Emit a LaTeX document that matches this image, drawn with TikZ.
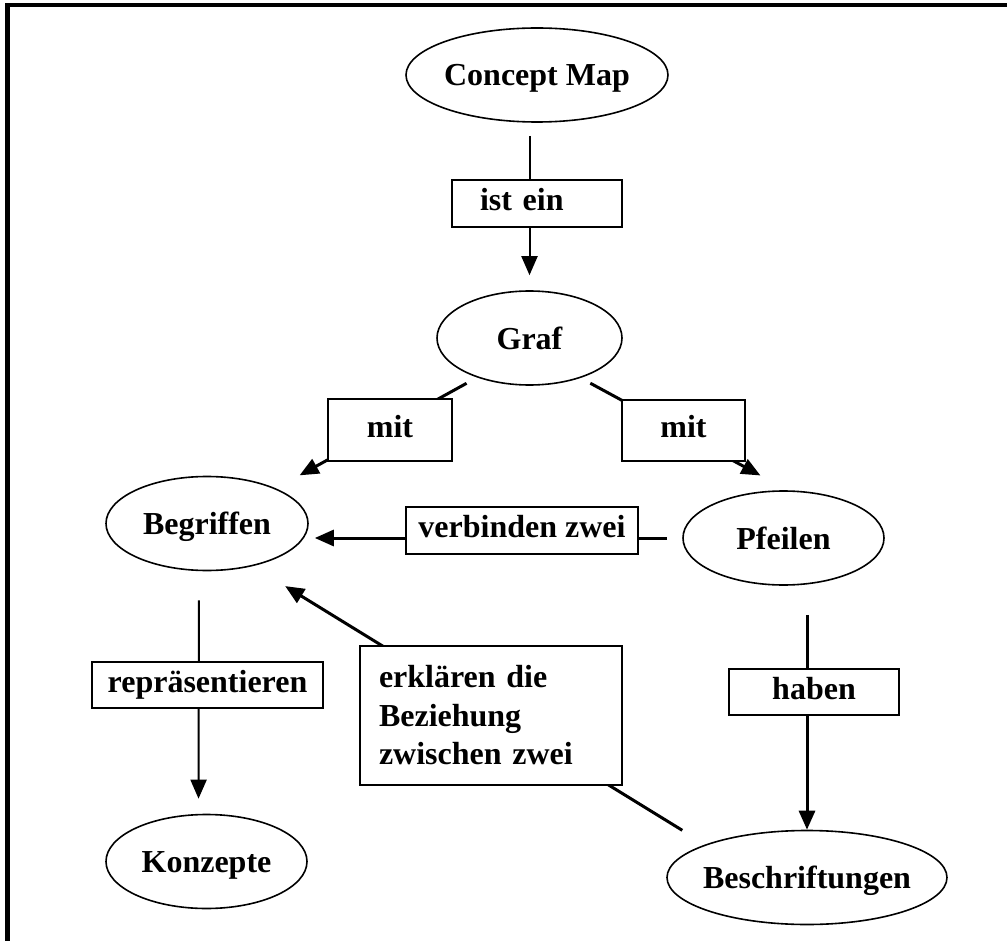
\documentclass[tikz,border=0pt]{standalone}
\usepackage{fontspec}
\setmainfont{Liberation Serif}
\usetikzlibrary{shapes.geometric,arrows.meta}

\begin{document}
\begin{tikzpicture}[x=1pt, y=-1pt, >={Triangle[length=19pt,width=16pt]},
  font=\fontsize{32}{38.5}\selectfont\bfseries,
  concept/.style={ellipse, draw, line width=1.6pt, minimum height=94pt,
    inner sep=0pt, text height=22pt, text depth=0pt},
  rel/.style={draw, rectangle, fill=white, line width=2pt},
  phrase/.style={rel, inner sep=4pt, text height=22pt, text depth=8pt},
  link/.style={line width=3pt},
  thinlink/.style={line width=2pt}]
\useasboundingbox (0,0) rectangle (1007,941);
% frame
\draw[line width=4.5pt] (7.5,941) -- (7.5,5) -- (1007,5);
% concepts
\foreach \n/\x/\y/\w/\t in {cmap/537/75/262/Concept Map, graf/529.5/338/185/Graf,
    begr/207/523.5/202/Begriffen, pfeil/783.5/538/201/Pfeilen,
    konz/206.5/861.5/201/Konzepte, beschr/807/877.5/280/Beschriftungen}
  \node[concept, minimum width=\w] (\n) at (\x,\y) {\makebox[0pt]{\t}};
% connectors
\draw[thinlink, ->, shorten <=13pt, shorten >=15pt] (cmap.south -| graf.north) -- (graf.north);
\draw[link, ->, shorten <=12pt, shorten >=27pt] (graf.217.5) -- (begr.27.6);
\draw[link, ->, shorten <=11pt, shorten >=31pt] (graf.322.5) -- (pfeil.85);
\draw[link, ->, shorten <=15pt, shorten >=6pt] (pfeil.west) -- (begr.east |- pfeil.west);
\draw[thinlink, ->, shorten <=29pt, shorten >=15pt] ([xshift=-8pt]begr.south) -- ([xshift=-8pt]konz.north);
\draw[link, ->, shorten <=29pt] (pfeil.south -| beschr.north) -- (beschr.north);
\draw[link, ->, shorten <=27pt, shorten >=38pt] (beschr.162) -- (begr.317.7);
% linking phrases
\node[phrase, text width=114pt, inner xsep=28pt, align=left, minimum height=47pt] (isein) at (537,203.5) {ist ein};
\foreach \n/\x/\y/\w/\h/\t in {mitl/390/430/124/62/mit, mitr/683.5/430.5/123/61/mit,
    verb/522/530.5/232/47/verbinden zwei, repr/207.5/685/231/46/repräsentieren,
    haben/814/692/170/46/haben}
  \node[phrase, minimum width=\w, minimum height=\h] (\n) at (\x,\y) {\t};
\node[rel, text width=224pt, inner xsep=19pt, inner ysep=0pt, align=left, minimum height=139pt] (erkl)
  at (491,715.5) {erklären die\\Beziehung\\zwischen zwei};
\end{tikzpicture}
\end{document}
